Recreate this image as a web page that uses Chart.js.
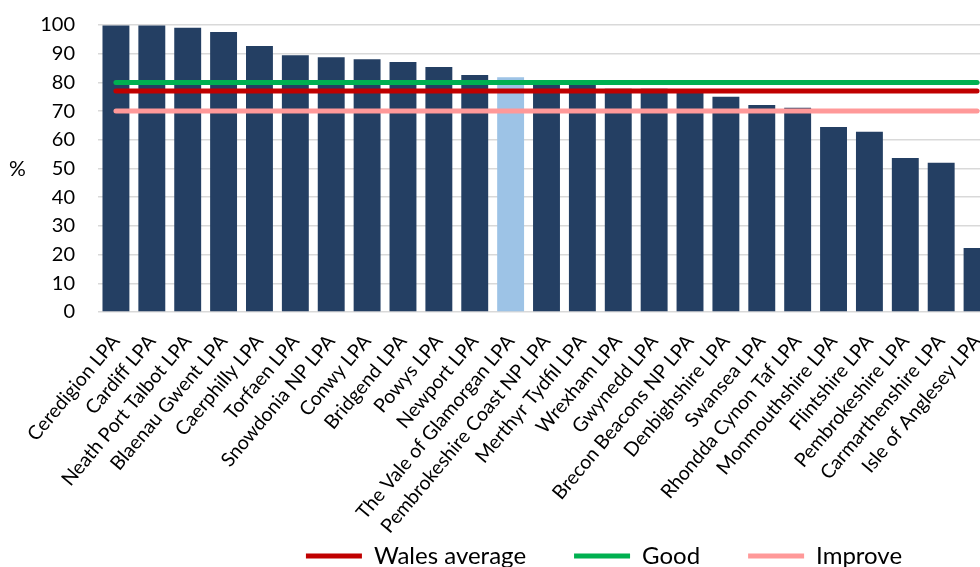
<!DOCTYPE html>
<html>
<head>
<meta charset="utf-8">
<script src="https://cdn.jsdelivr.net/npm/chart.js@4"></script>
<style>
  html, body { margin: 0; padding: 0; background: #fff; overflow: hidden; }
  #wrap { position: relative; width: 1208px; height: 578px; }
  #pct { position: absolute; left: 9px; top: 155px; font: 21px Lato, sans-serif; color: #000; }
</style>
</head>
<body>
<div id="wrap">
  <canvas id="myChart"></canvas>
  <div id="pct">%</div>
</div>
<script>
var categories = ["Ceredigion LPA", "Cardiff LPA", "Neath Port Talbot LPA", "Blaenau Gwent LPA", "Caerphilly LPA",
  "Torfaen LPA", "Snowdonia NP LPA", "Conwy LPA", "Bridgend LPA", "Powys LPA", "Newport LPA",
  "The Vale of Glamorgan LPA", "Pembrokeshire Coast NP LPA", "Merthyr Tydfil LPA", "Wrexham LPA",
  "Gwynedd LPA", "Brecon Beacons NP LPA", "Denbighshire LPA", "Swansea LPA", "Rhondda Cynon Taf LPA",
  "Monmouthshire LPA", "Flintshire LPA", "Pembrokeshire LPA", "Carmarthenshire LPA", "Isle of Anglesey LPA"];
var values = [99.8, 99.8, 99.0, 97.6, 92.7, 89.5, 88.8, 88.1, 87.1, 85.4, 82.6,
  81.8, 79.3, 79.3, 77.8, 77.8, 77.5, 75.0, 72.1, 71.2, 64.5, 62.8, 53.7, 52.0, 22.3];
var highlight = "The Vale of Glamorgan LPA";
var walesAverage = 77;
var good = 80;
var improve = 70;

var navy = '#243F63';
var lightBlue = '#9DC3E6';

function refLine(label, value, color) {
  return {
    type: 'line',
    label: label,
    data: [{x: categories[0], y: value}, {x: categories[categories.length - 1], y: value}],
    borderColor: color,
    backgroundColor: color,
    borderWidth: 5,
    borderCapStyle: 'round',
    pointRadius: 0,
    pointStyle: 'line',
    order: 1
  };
}

// long category names hang down past the x axis box, so don't clip them to it
var unclipLabels = {
  id: 'unclipLabels',
  afterLayout: function(chart) { chart.scales.x.bottom = chart.height; }
};

new Chart(document.getElementById('myChart'), {
  type: 'bar',
  data: {
    labels: categories,
    datasets: [
      {
        label: 'Share',
        data: values,
        backgroundColor: categories.map(function(c) { return c === highlight ? lightBlue : navy; }),
        categoryPercentage: 1,
        barPercentage: 0.75,
        order: 2
      },
      refLine('Wales average', walesAverage, '#C00000'),
      refLine('Good', good, '#00B050'),
      refLine('Improve', improve, '#FF9999')
    ]
  },
  plugins: [unclipLabels],
  options: {
    responsive: true,
    maintainAspectRatio: false,
    animation: false,
    layout: { padding: { left: 0, right: 0, top: 25, bottom: 0 } },
    plugins: {
      tooltip: { enabled: false },
      legend: {
        position: 'bottom',
        labels: {
          filter: function(item) { return item.text !== 'Share'; },
          usePointStyle: true,
          pointStyleWidth: 56,
          padding: 48,
          color: '#000',
          font: { family: 'Lato', size: 24 }
        }
      }
    },
    scales: {
      x: {
        afterFit: function(scale) { scale.height = 184; },
        grid: { display: false },
        border: { display: false },
        ticks: {
          minRotation: 50,
          maxRotation: 50,
          autoSkip: false,
          color: '#000',
          padding: 10,
          font: { family: 'Lato', size: 19.5 }
        }
      },
      y: {
        min: 0,
        max: 100,
        afterFit: function(scale) {
          scale.width = 98;
          scale.paddingTop = 0;
          scale.paddingBottom = 0;
        },
        border: { display: false },
        grid: { color: '#d9d9d9', lineWidth: 1.5, drawTicks: false },
        ticks: {
          stepSize: 10,
          padding: 23,
          color: '#000',
          font: { family: 'Lato', size: 20 }
        }
      },
      // empty right-hand strip: the plot runs off the 980px window like the original
      spare: {
        type: 'linear',
        position: 'right',
        afterFit: function(scale) { scale.width = 213; },
        grid: { display: false },
        border: { display: false },
        ticks: { display: false }
      }
    }
  }
});
</script>
</body>
</html>
